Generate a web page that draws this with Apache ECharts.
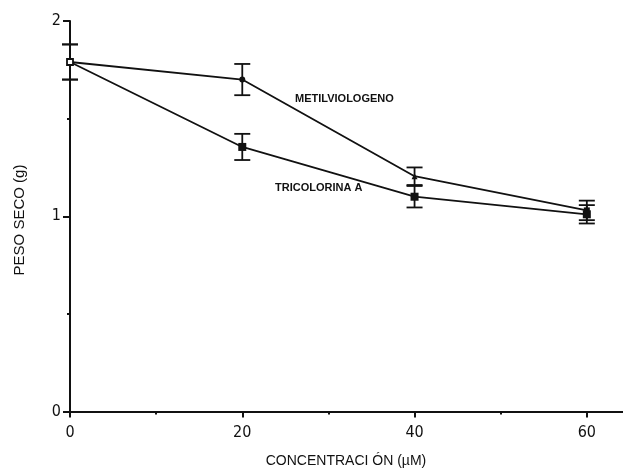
<!DOCTYPE html>
<html>
<head>
<meta charset="utf-8">
<script src="https://cdn.jsdelivr.net/npm/echarts@6/dist/echarts.min.js"></script>
<style>
html,body{margin:0;padding:0;background:#fff;}
#c{width:623px;height:473px;}
</style>
</head>
<body>
<div id="c"></div>
<script>
const concentrations = [0, 20, 40, 60];
const metilMean = [1.79, 1.70, 1.205, 1.03];
const metilErr = [0.09, 0.08, 0.045, 0.05];
const metilSymbols = ['rect', 'circle', 'triangle', 'rect'];
const tricMean = [1.79, 1.355, 1.10, 1.01];
const tricErr = [0.09, 0.067, 0.055, 0.047];
const xMajorTicks = [0, 20, 40, 60];
const xMinorTicks = [10, 30, 50];
const yTicks = [0, 1, 2];
const seriesNames = ['METILVIOLOGENO', 'TRICOLORINA A'];

const INK = '#111';
const narrow = "'DejaVu Sans Condensed', 'Liberation Sans Narrow', 'Liberation Sans', Arial, sans-serif";
const sans = "'Liberation Sans', Arial, sans-serif";

const chart = echarts.init(document.getElementById('c'), null, {renderer: 'canvas'});

function errData(means, errs) {
  return concentrations.map((x, i) => [x, means[i] - errs[i], means[i] + errs[i]]);
}

function renderErr(params, api) {
  const x = api.value(0);
  const lo = api.coord([x, api.value(1)]);
  const hi = api.coord([x, api.value(2)]);
  const hw = 8;
  const style = {stroke: INK, lineWidth: 1.8, fill: null};
  return {
    type: 'group',
    children: [
      {type: 'line', shape: {x1: lo[0], y1: lo[1], x2: hi[0], y2: hi[1]}, style},
      {type: 'line', shape: {x1: lo[0] - hw, y1: lo[1], x2: lo[0] + hw, y2: lo[1]}, style},
      {type: 'line', shape: {x1: hi[0] - hw, y1: hi[1], x2: hi[0] + hw, y2: hi[1]}, style}
    ]
  };
}

const metilData = concentrations.map((x, i) => ({
  value: [x, metilMean[i]],
  symbol: metilSymbols[i],
  itemStyle: i === 0 ? {color: '#fff', borderColor: INK, borderWidth: 1.8} : {color: INK}
}));
const tricData = concentrations.map((x, i) => ({
  value: [x, tricMean[i]],
  symbol: i === 0 ? 'none' : 'rect'
}));

chart.setOption({
  animation: false,
  backgroundColor: '#fff',
  grid: {left: 70, right: 0, top: 21, bottom: 61.5, containLabel: false},
  xAxis: [{
    type: 'value', min: 0, max: 64.2,
    axisLine: {show: true, lineStyle: {color: INK, width: 2}},
    axisTick: {show: true, customValues: xMajorTicks, length: 6, lineStyle: {color: INK, width: 2}},
    axisLabel: {customValues: xMajorTicks, color: INK, fontFamily: narrow, fontSize: 16, margin: 13},
    splitLine: {show: false}
  }, {
    type: 'value', min: 0, max: 64.2, position: 'bottom',
    axisLine: {show: false},
    axisTick: {show: true, customValues: xMinorTicks, length: 3, lineStyle: {color: INK, width: 2}},
    axisLabel: {show: false},
    splitLine: {show: false}
  }],
  yAxis: {
    type: 'value', min: 0, max: 2, interval: 1,
    axisLine: {show: true, lineStyle: {color: INK, width: 2}},
    axisTick: {show: true, length: 7, lineStyle: {color: INK, width: 2}},
    minorTick: {show: true, splitNumber: 2, length: 3, lineStyle: {color: INK, width: 2}},
    axisLabel: {color: INK, fontFamily: narrow, fontSize: 16, margin: 9,
      formatter: v => yTicks.includes(v) ? String(v) : ''},
    splitLine: {show: false}
  },
  series: [
    {
      name: seriesNames[0], type: 'line', data: metilData,
      symbolSize: 6, lineStyle: {color: INK, width: 1.8}, itemStyle: {color: INK},
      z: 3
    },
    {
      name: seriesNames[1], type: 'line', data: tricData,
      symbolSize: 8, lineStyle: {color: INK, width: 1.8}, itemStyle: {color: INK},
      z: 3
    },
    {type: 'custom', renderItem: renderErr, data: errData(metilMean, metilErr), encode: {x: 0, y: [1, 2]}, z: 2},
    {type: 'custom', renderItem: renderErr, data: errData(tricMean, tricErr), encode: {x: 0, y: [1, 2]}, z: 2}
  ],
  graphic: [
    {type: 'text', left: 295, top: 93, style: {text: seriesNames[0], font: 'bold 11px ' + sans, fill: INK}},
    {type: 'text', left: 275, top: 182, style: {text: seriesNames[1], font: 'bold 11px ' + sans, fill: INK}},
    {type: 'text', x: 20, y: 220, rotation: Math.PI / 2,
      style: {text: 'PESO SECO (g)', font: '15px ' + sans, fill: INK, align: 'center', verticalAlign: 'middle'}},
    {type: 'text', x: 346, y: 461,
      style: {text: 'CONCENTRACI ÓN (µM)', font: '14px ' + sans, fill: INK, align: 'center', verticalAlign: 'middle'}}
  ]
});
</script>
</body>
</html>
